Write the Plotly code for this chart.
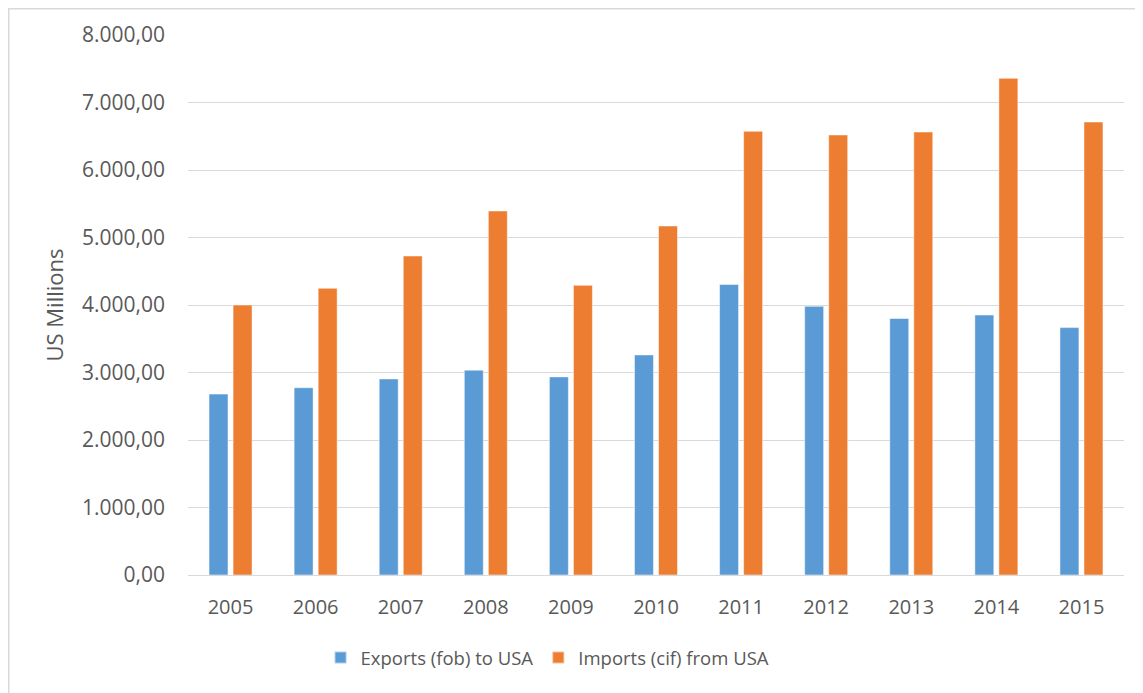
import plotly.graph_objects as go

years = ["2005", "2006", "2007", "2008", "2009", "2010", "2011", "2012", "2013", "2014", "2015"]
exports_fob = [2680, 2775, 2905, 3035, 2935, 3260, 4305, 3980, 3800, 3852, 3665]
imports_cif = [4000, 4247, 4726, 5393, 4291, 5170, 6573, 6519, 6563, 7358, 6711]
series_names = ["Exports (fob) to USA", "Imports (cif) from USA"]
y_ticks = [0, 1000, 2000, 3000, 4000, 5000, 6000, 7000, 8000]

# page has an 8px body margin, so the figure is offset by 8px
W, H = 1135, 685
L, R, T, B = 180, 19, 27, 118
FONT = "Open Sans"
TXT = "#595959"

fig = go.Figure()
fig.add_trace(go.Bar(x=years, y=exports_fob, name=series_names[0],
                     marker=dict(color="#5B9BD5", line=dict(color="rgba(255,255,255,0.5)", width=1))))
fig.add_trace(go.Bar(x=years, y=imports_cif, name=series_names[1],
                     marker=dict(color="#ED7D31", line=dict(color="rgba(255,255,255,0.5)", width=1))))

pw = W - L - R
ph = H - T - B
# outer border (only top/left visible in the reference)
fig.add_shape(type="rect", xref="paper", yref="paper",
              x0=(0.75 - L) / pw, x1=(W + 10 - L) / pw,
              y0=-(B + 10) / ph, y1=(ph + T - 0.75) / ph,
              line=dict(color="#d9d9d9", width=1.5), fillcolor="rgba(0,0,0,0)", layer="below")

fig.update_layout(
    width=W, height=H,
    margin=dict(l=L, r=R, t=T, b=B, autoexpand=False),
    paper_bgcolor="white", plot_bgcolor="white",
    separators=",.",
    barmode="group", bargap=0.435, bargroupgap=0.21,
    font=dict(family=FONT, size=20, color=TXT),
    xaxis=dict(showgrid=False, showline=True, linecolor="#d9d9d9", linewidth=1,
               ticks="", ticklabelstandoff=14, tickfont=dict(size=20, color=TXT)),
    yaxis=dict(range=[0, 8000], tickvals=y_ticks, tickformat=",.2f",
               showgrid=True, gridcolor="#d9d9d9", gridwidth=1,
               zeroline=True, zerolinecolor="#d9d9d9", zerolinewidth=1,
               showline=False, ticks="", ticklabelstandoff=22,
               tickfont=dict(size=21, color=TXT),
               title=dict(text="US Millions", font=dict(size=22, color=TXT), standoff=12)),
    legend=dict(orientation="h", xref="container", yref="container",
                x=0.2754, xanchor="left", y=1 - 650 / H, yanchor="middle",
                font=dict(size=18.5, color=TXT), itemsizing="constant", traceorder="normal"),
)

fig.write_html("out.html")
